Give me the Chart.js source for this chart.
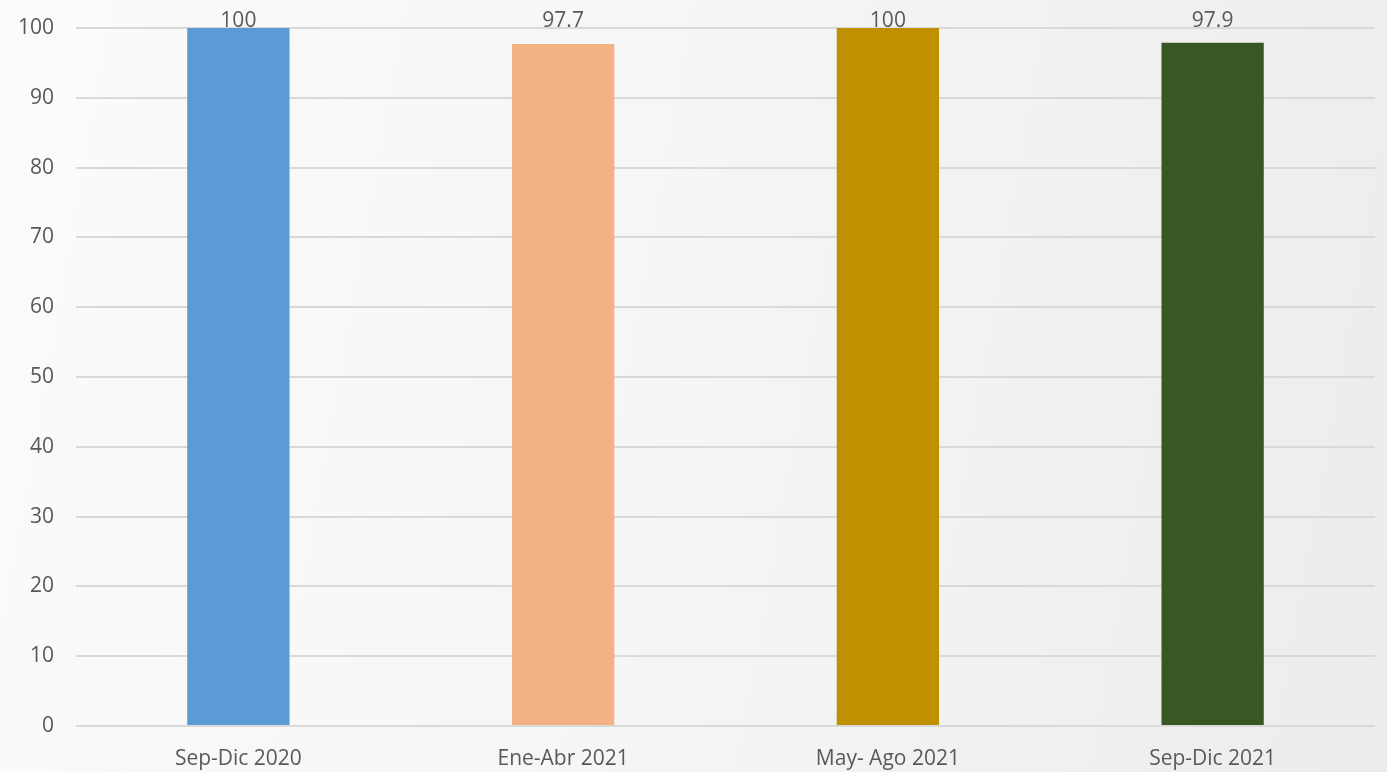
<!DOCTYPE html>
<html lang="es">
<head>
<meta charset="utf-8">
<title>Gráfica</title>
<script src="https://cdn.jsdelivr.net/npm/chart.js@4/dist/chart.umd.min.js"></script>
<style>
    html, body {
        margin: 0;
        padding: 0;
        width: 1387px;
        height: 772px;
        overflow: hidden;
        background: linear-gradient(100deg, #fbfbfb 0%, #f6f6f6 45%, #ececec 100%);
    }
    #wrap {
        position: relative;
        width: 1387px;
        height: 772px;
    }
</style>
</head>
<body>
<div id="wrap">
    <canvas id="grafica" width="1387" height="772"></canvas>
</div>
<script>
// --- Datos ---
const periodos = ['Sep-Dic 2020', 'Ene-Abr 2021', 'May- Ago 2021', 'Sep-Dic 2021'];
const porcentajes = [100, 97.7, 100, 97.9];
const coloresBarras = ['#5b9bd5', '#f4b183', '#bf9000', '#385723'];
const ejeY = { min: 0, max: 100, paso: 10 };

const textoGris = '#595959';
const fuente = "'Open Sans', 'Liberation Sans', sans-serif";
const tamFuente = 21;

// etiquetas encima de cada barra (todas a la altura del borde superior, como en Excel)
const etiquetasBarras = {
    id: 'etiquetasBarras',
    afterDatasetsDraw(chart) {
        const { ctx, chartArea } = chart;
        const meta = chart.getDatasetMeta(0);
        ctx.save();
        ctx.font = tamFuente + 'px ' + fuente;
        ctx.fillStyle = textoGris;
        ctx.textAlign = 'center';
        ctx.textBaseline = 'alphabetic';
        meta.data.forEach((bar, i) => {
            const y = Math.min(bar.y, chartArea.top) - 1;
            ctx.fillText(String(porcentajes[i]), bar.x, y);
        });
        ctx.restore();
    }
};

const ctx = document.getElementById('grafica').getContext('2d');
const grafica = new Chart(ctx, {
    type: 'bar',
    data: {
        labels: periodos,
        datasets: [{
            data: porcentajes,
            backgroundColor: coloresBarras,
            borderWidth: 0,
            barPercentage: 0.63,
            categoryPercentage: 0.5
        }]
    },
    options: {
        responsive: false,
        animation: false,
        layout: {
            padding: { top: 28, right: 12, left: 0, bottom: 0 }
        },
        plugins: {
            legend: { display: false },
            tooltip: { enabled: false }
        },
        scales: {
            x: {
                grid: { display: false, drawTicks: false },
                border: { display: false },
                ticks: {
                    color: textoGris,
                    font: { family: fuente, size: tamFuente },
                    padding: 20,
                    maxRotation: 0
                },
                afterFit(scale) { scale.height = 46; }
            },
            y: {
                min: ejeY.min,
                max: ejeY.max,
                // marcas invisibles para separar las etiquetas sin inflar el margen superior
                grid: { color: '#d9d9d9', lineWidth: 2, drawTicks: true, tickLength: 20, tickColor: 'rgba(0,0,0,0)' },
                border: { display: false },
                ticks: {
                    stepSize: ejeY.paso,
                    color: textoGris,
                    font: { family: fuente, size: tamFuente },
                    padding: 2
                },
                afterFit(scale) { scale.width = 76; }
            }
        }
    },
    plugins: [etiquetasBarras]
});
</script>
</body>
</html>
